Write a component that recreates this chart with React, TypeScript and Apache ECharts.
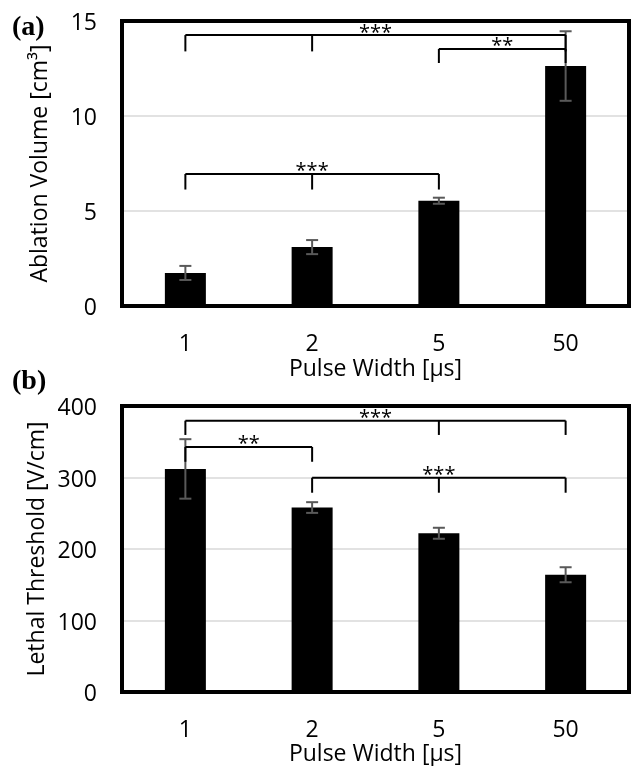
import React, { useEffect, useRef } from 'react';
import * as echarts from 'echarts';

const categories = ['1', '2', '5', '50'];
const volumeMeans = [1.74, 3.1, 5.54, 12.63];
const volumeErrors = [0.37, 0.37, 0.16, 1.83];
const thresholdMeans = [312, 258, 222, 164];
const thresholdErrors = [41.6, 7.5, 7.7, 10.5];
const volumeAxis = { min: 0, max: 15, interval: 5 };
const thresholdAxis = { min: 0, max: 400, interval: 100 };

const volumeBrackets = [
  { cats: [0, 1, 3], y: 14.26, drop: 13.4, label: '***' },
  { cats: [2, 3], y: 13.53, drop: 12.79, label: '**' },
  { cats: [0, 1, 2], y: 6.95, drop: 6.13, label: '***' },
];
const thresholdBrackets = [
  { cats: [0, 2, 3], y: 379.5, drop: 359.5, label: '***' },
  { cats: [0, 1], y: 342.7, drop: 322, label: '**' },
  { cats: [1, 2, 3], y: 299.7, drop: 278.7, label: '***' },
];

const FONT = 'Open Sans';

function errorSeries(means: number[], errs: number[], axisIndex: number) {
  return {
    type: 'custom',
    xAxisIndex: axisIndex,
    yAxisIndex: axisIndex,
    z: 5,
    data: means.map((m, i) => [i, m - errs[i], m + errs[i]]),
    renderItem: (params: any, api: any) => {
      const x = api.value(0);
      const pHi = api.coord([x, api.value(2)]);
      const pLo = api.coord([x, api.value(1)]);
      const cap = 6;
      const st = { stroke: '#595959', lineWidth: 2 };
      return {
        type: 'group',
        children: [
          { type: 'line', shape: { x1: pHi[0], y1: pHi[1], x2: pLo[0], y2: pLo[1] }, style: st },
          { type: 'line', shape: { x1: pHi[0] - cap, y1: pHi[1], x2: pHi[0] + cap, y2: pHi[1] }, style: st },
          { type: 'line', shape: { x1: pLo[0] - cap, y1: pLo[1], x2: pLo[0] + cap, y2: pLo[1] }, style: st },
        ],
      };
    },
  };
}

function bracketSeries(brackets: any[], axisIndex: number) {
  return {
    type: 'custom',
    xAxisIndex: axisIndex,
    yAxisIndex: axisIndex,
    z: 6,
    clip: false,
    data: brackets.map((b) => [b.cats[0], b.cats[b.cats.length - 1], b.y, b.drop]),
    renderItem: (params: any, api: any) => {
      const b = brackets[params.dataIndex];
      const y = api.value(2);
      const drop = api.value(3);
      const pL = api.coord([api.value(0), y]);
      const pR = api.coord([api.value(1), y]);
      const st = { stroke: '#000', lineWidth: 2 };
      const children: any[] = [
        { type: 'line', shape: { x1: pL[0], y1: pL[1], x2: pR[0], y2: pR[1] }, style: st },
      ];
      b.cats.forEach((c: number) => {
        const top = api.coord([c, y]);
        const bot = api.coord([c, drop]);
        children.push({ type: 'line', shape: { x1: top[0], y1: top[1], x2: bot[0], y2: bot[1] }, style: st });
      });
      children.push({
        type: 'text',
        style: {
          text: b.label,
          x: (pL[0] + pR[0]) / 2,
          y: pL[1] - 4,
          align: 'center',
          verticalAlign: 'middle',
          fontSize: 20,
          fontFamily: FONT,
          fill: '#000',
        },
      });
      return { type: 'group', children };
    },
  };
}

export default function App() {
  const ref = useRef<HTMLDivElement>(null);
  useEffect(() => {
    const chart = echarts.init(ref.current!, null, { renderer: 'svg' });
    const grids = [
      { left: 122, top: 21, width: 507, height: 285 },
      { left: 122, top: 406, width: 507, height: 286 },
    ];
    const yNames = ['Ablation Volume [cm³]', 'Lethal Threshold [V/cm]'];
    const yRanges = [volumeAxis, thresholdAxis];
    chart.setOption({
      animation: false,
      textStyle: { fontFamily: FONT },
      grid: grids.map((g) => ({ ...g, containLabel: false })),
      xAxis: [0, 1].map((i) => ({
        type: 'category',
        gridIndex: i,
        data: categories,
        axisLine: { show: false },
        axisTick: { show: false },
        axisLabel: { fontSize: 23, lineHeight: 20, color: '#000', margin: 26, fontFamily: FONT },
        name: 'Pulse Width [µs]',
        nameLocation: 'middle',
        nameGap: i === 0 ? 51 : 49,
        nameTextStyle: { fontSize: 23, lineHeight: 20, color: '#000', fontFamily: FONT },
      })),
      yAxis: [0, 1].map((i) => ({
        type: 'value',
        gridIndex: i,
        min: yRanges[i].min,
        max: yRanges[i].max,
        interval: yRanges[i].interval,
        axisLine: { show: false },
        axisTick: { show: false },
        axisLabel: { fontSize: 23, color: '#000', margin: 25, fontFamily: FONT },
        splitLine: { lineStyle: { color: '#d9d9d9', width: 1.5 } },
        name: yNames[i],
        nameLocation: 'middle',
        nameGap: 73,
        nameTextStyle: { fontSize: 23, color: '#000', fontFamily: FONT },
      })),
      graphic: [
        ...grids.map((g) => ({
          type: 'rect',
          z: 10,
          silent: true,
          shape: { x: g.left, y: g.top, width: g.width, height: g.height },
          style: { fill: 'none', stroke: '#000', lineWidth: 4 },
        })),
        { type: 'text', left: 12, top: 11, style: { text: '(a)', font: 'bold 28px "Liberation Serif"', fill: '#000' } },
        { type: 'text', left: 12, top: 365, style: { text: '(b)', font: 'bold 28px "Liberation Serif"', fill: '#000' } },
      ],
      series: [
        { type: 'bar', xAxisIndex: 0, yAxisIndex: 0, data: volumeMeans, barWidth: 41, itemStyle: { color: '#000' }, z: 3 },
        { type: 'bar', xAxisIndex: 1, yAxisIndex: 1, data: thresholdMeans, barWidth: 41, itemStyle: { color: '#000' }, z: 3 },
        errorSeries(volumeMeans, volumeErrors, 0),
        errorSeries(thresholdMeans, thresholdErrors, 1),
        bracketSeries(volumeBrackets, 0),
        bracketSeries(thresholdBrackets, 1),
      ],
    });
    return () => chart.dispose();
  }, []);
  return <div ref={ref} style={{ position: 'fixed', left: 0, top: 0, width: 632, height: 766 }} />;
}
